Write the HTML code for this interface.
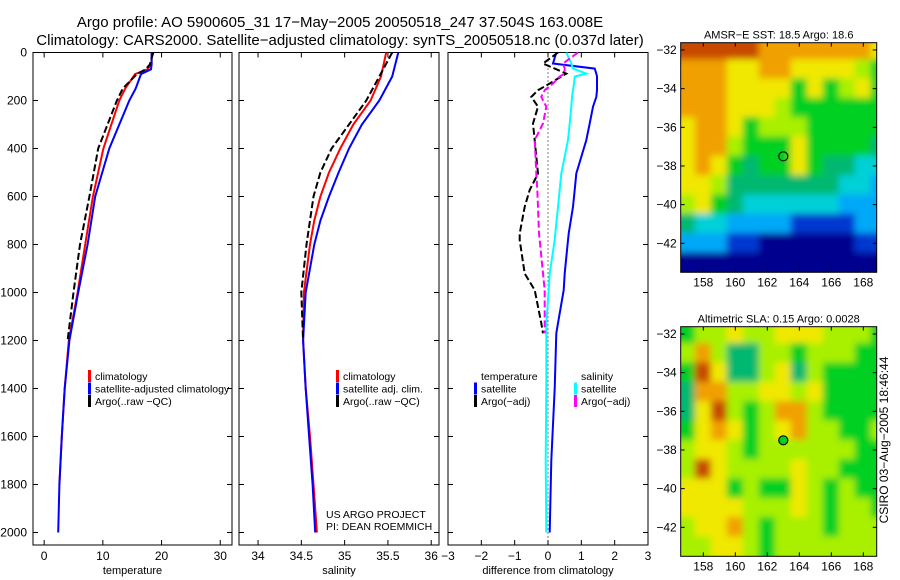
<!DOCTYPE html>
<html><head><meta charset="utf-8"><style>
html,body{margin:0;padding:0;background:#fff;width:900px;height:580px;overflow:hidden}
svg{display:block;font-family:"Liberation Sans",sans-serif}
</style></head><body>
<svg id="fig" width="900" height="580" viewBox="0 0 900 580">
<text x="340" y="27" text-anchor="middle" font-size="15">Argo profile: AO 5900605_31 17−May−2005 20050518_247 37.504S 163.008E</text>
<text x="340" y="45" text-anchor="middle" font-size="15">Climatology: CARS2000. Satellite−adjusted climatology: synTS_20050518.nc (0.037d later)</text>
<text x="888" y="440" text-anchor="middle" font-size="12" transform="rotate(-90 888 440)">CSIRO 03−Aug−2005 18:46:44</text>
</svg>
<script>
// ---------- Profile data ----------
const tDepth = [0,50,70,90,150,200,400,600,800,1000,1200,1400,1600,1800,2000];
const tClim  = [18.3,18.3,17.6,15.5,13.8,12.8,10.1,8.3,7.0,5.7,4.2,3.5,3.0,2.6,null];
const tSat   = [18.3,18.3,18.2,16.5,15.6,14.5,11.1,8.7,7.4,5.8,4.3,3.5,3.0,2.6,2.4];
const tArgo  = [18.6,18.0,17.3,15.8,13.4,12.4,9.2,7.7,6.1,5.0,4.0,null,null,null,null];

const sDepth = [0,100,200,300,400,500,600,700,800,1000,1200,1400,1600,1800,2000];
const sClim  = [35.48,35.42,35.3,35.1,34.95,34.82,34.72,34.65,34.6,34.53,34.52,34.55,34.6,34.64,34.68];
const sSat   = [35.62,35.55,35.4,35.2,35.05,34.93,34.82,34.72,34.65,34.55,34.52,34.55,34.59,34.63,34.66];
const sArgo  = [35.55,35.4,35.25,35.05,34.85,34.72,34.64,34.6,34.56,34.5,34.52,null,null,null,null];

const dDepth   = [0,46,67,88,100,129,157,185,226,296,365,504,573,643,754,782,921,990,1128,1170,1400,1700,2000];
const dTempSat = [0.25,0.15,1.4,1.45,1.47,1.47,1.47,1.45,1.35,1.25,1.15,0.85,0.8,0.75,0.62,0.6,0.5,0.47,0.3,0.25,0.2,0.1,0.05];
const dSalSat  = [0.55,0.7,0.75,1.15,0.8,0.78,0.75,0.72,0.7,0.65,0.6,0.4,0.35,0.3,0.22,0.2,0.05,0.02,-0.05,-0.05,-0.05,-0.07,-0.05];
const dTempArgo= [0.3,-0.15,0.2,0.55,0.4,0.05,-0.3,-0.5,-0.3,-0.45,-0.4,-0.3,-0.55,-0.7,-0.85,-0.85,-0.7,-0.4,-0.2,-0.15,null,null,null];
const dSalArgo = [0.9,0.45,0.5,0.5,0.35,0.15,-0.1,-0.2,-0.05,-0.15,-0.4,-0.35,-0.32,-0.3,-0.27,-0.25,-0.15,-0.1,-0.1,-0.1,null,null,null];

const depthTicks = [0,200,400,600,800,1000,1200,1400,1600,1800,2000];
const tTicks = [0,10,20,30];
const sTicks = [34,34.5,35,35.5,36];
const sTickLabels = ["34","34.5","35","35.5","36"];
const dTicks = [-3,-2,-1,0,1,2,3];

// ---------- Map data (colour index 0..9, rows lat -32..-43, cols lon 157..169) ----------
const mapLons = [157,158,159,160,161,162,163,164,165,166,167,168,169];
const mapLats = [-32,-33,-34,-35,-36,-37,-38,-39,-40,-41,-42,-43];
const sstGrid = [
[9,9,9,9,9,8,8,8,8,8,8,8,7],
[8,8,8,7,7,8,8,7,7,7,7,6,5],
[8,8,8,7,7,7,7,5,7,5,6,7,5],
[8,8,8,7,7,7,6,5,5,5,5,5,5],
[7,8,8,7,5,6,6,6,5,5,5,5,5],
[7,8,8,6,5,5,5,7,5,5,5,5,4],
[7,8,7,5,4,5,5,7,5,4,4,3,3],
[7,7,6,4,4,4,4,4,4,4,3,3,2],
[6,7,5,4,3,3,3,3,3,3,2,2,2],
[4,3,3,2,2,2,2,1,1,1,1,2,2],
[2,2,2,1,1,0,0,0,0,0,0,1,1],
[0,0,0,0,0,0,0,0,0,0,0,0,0]];
const slaGrid = [
[5,6,6,7,6,6,7,7,7,6,6,6,5],
[6,8,6,4,4,6,6,5,6,6,6,5,5],
[5,9,7,4,4,6,7,4,6,5,5,5,5],
[4,8,8,6,6,7,7,6,7,5,5,5,5],
[4,7,9,6,5,6,8,8,6,5,5,5,5],
[5,7,8,7,5,6,7,8,6,6,5,5,6],
[6,7,7,6,5,6,6,6,6,6,6,5,5],
[6,9,7,6,6,6,6,7,6,6,5,5,5],
[7,7,7,5,6,5,5,7,6,5,6,5,5],
[7,7,7,7,6,6,6,7,6,5,6,6,5],
[6,7,7,8,6,5,6,6,6,5,6,6,6],
[6,6,7,7,6,5,6,6,6,6,6,6,6]];
const lonTicks = [158,160,162,164,166,168];
const latTicks = [-32,-34,-36,-38,-40,-42];
const floatLon = 163.0, floatLat = -37.5;

const palette = ["#00008f","#0038d0","#00a8f8","#00d0d8","#00b870","#00d020","#a8f000","#f0e800","#f0a000","#c84800"];

const svg = document.getElementById('fig');
const NS = "http://www.w3.org/2000/svg";
function mk(tag, attrs, parent){const e=document.createElementNS(NS,tag);for(const k in attrs)e.setAttribute(k,attrs[k]);(parent||svg).appendChild(e);return e;}

const yTop=52.5, yPerM=0.24;
function yD(d){return yTop + d*yPerM;}
const plotBottom=545;

function profilePanel(name,x0,x1,vmin,vmax,ticks,labels,xlabel){
  const g=mk('g',{});
  
  
  const xs=v=>x0+(v-vmin)/(vmax-vmin)*(x1-x0);
  const fr=mk('rect',{x:x0,y:yTop,width:x1-x0,height:plotBottom-yTop,fill:'none',stroke:'#000','stroke-width':1},g);
  
  
  ticks.forEach((t,i)=>{
    const x=xs(t);
    mk('line',{x1:x,x2:x,y1:plotBottom,y2:plotBottom-5,stroke:'#000'},g);
    mk('line',{x1:x,x2:x,y1:yTop,y2:yTop+5,stroke:'#000'},g);
    const tx=mk('text',{x:x,y:plotBottom+15,'text-anchor':'middle','font-size':12},g);
    tx.textContent=labels[i];
    
    
  });
  depthTicks.forEach(d=>{
    const y=yD(d);
    mk('line',{x1:x0,x2:x0+5,y1:y,y2:y,stroke:'#000'},g);
    mk('line',{x1:x1,x2:x1-5,y1:y,y2:y,stroke:'#000'},g);
  });
  const xl=mk('text',{x:(x0+x1)/2,y:plotBottom+29,'text-anchor':'middle','font-size':11},g);
  xl.textContent=xlabel;
  
  
  return {g,xs};
}
function series(p,depths,vals,color,dash,name){
  const pts=[];
  depths.forEach((d,i)=>{if(vals[i]!==null)pts.push(p.xs(vals[i]).toFixed(1)+','+yD(d).toFixed(1));});
  const pl=mk('polyline',{points:pts.join(' '),fill:'none',stroke:color,'stroke-width':2,'stroke-dasharray':dash||'none'},p.g);
  
  
}
function legend(p,x,y,items){
  items.forEach((it,i)=>{
    const yy=y+i*12.5;
    if(it[1]){mk('rect',{x:x,y:yy-10,width:3,height:12,fill:it[1]},p.g);}
    const t=mk('text',{x:x+7,y:yy,'font-size':10.5},p.g);
    t.textContent=it[0];
    
    
  });
}

depthTicks.forEach(d=>{
  const t=mk('text',{x:27,y:yD(d)+4,'text-anchor':'end','font-size':12});
  t.textContent=String(d);
  
  
});

const pT=profilePanel('temperature',33,232,-1.9,32,tTicks,tTicks.map(String),'temperature');
series(pT,tDepth,tClim,'#ff0000',null,'temperature-climatology-line');
series(pT,tDepth,tSat,'#0000ff',null,'temperature-satellite-line');
series(pT,tDepth,tArgo,'#000000','7,3','temperature-argo-line');
legend(pT,88,380,[['climatology','#ff0000'],['satellite-adjusted climatology','#0000ff'],['Argo(..raw −QC)','#000']]);

const pS=profilePanel('salinity',239,439,33.78,36.09,sTicks,sTickLabels,'salinity');
series(pS,sDepth,sClim,'#ff0000',null,'salinity-climatology-line');
series(pS,sDepth,sSat,'#0000ff',null,'salinity-satellite-line');
series(pS,sDepth,sArgo,'#000000','7,3','salinity-argo-line');
legend(pS,336,380,[['climatology','#ff0000'],['satellite adj. clim.','#0000ff'],['Argo(..raw −QC)','#000']]);
const us=mk('text',{x:326,y:518,'font-size':10.5},pS.g);us.textContent='US ARGO PROJECT';


const pi=mk('text',{x:326,y:530,'font-size':10.5},pS.g);pi.textContent='PI: DEAN ROEMMICH';



const pD=profilePanel('difference',448,648,-3,3,dTicks,dTicks.map(v=>v<0?'−'+(-v):String(v)),'difference from climatology');
const zl=mk('line',{x1:pD.xs(0),x2:pD.xs(0),y1:yTop,y2:plotBottom,stroke:'#000','stroke-dasharray':'1,3'},pD.g);


series(pD,dDepth,dTempSat,'#0000ff',null,'temp-satellite-diff-line');
series(pD,dDepth,dSalSat,'#00ffff',null,'sal-satellite-diff-line');
series(pD,dDepth,dTempArgo,'#000000','7,3','temp-argo-diff-line');
series(pD,dDepth,dSalArgo,'#ff00ff','7,3','sal-argo-diff-line');
legend(pD,474,380,[['temperature',null],['satellite','#0000ff'],['Argo(−adj)','#000']]);
legend(pD,574,380,[['salinity',null],['satellite','#00ffff'],['Argo(−adj)','#ff00ff']]);

// ---------- Maps ----------
const defs=mk('defs',{});
const f=mk('filter',{id:'sm',filterUnits:'userSpaceOnUse',x:'600',y:'0',width:'300',height:'580'},defs);
mk('feGaussianBlur',{'in':'SourceGraphic',stdDeviation:'3.5'},f);
function mapPanel(name,top,grid,title,markerFill){
  const x0=680.7,x1=876.7,bottom=top+229.6;
  const lonX=l=>703.3+(l-158)*16;
  const latY=la=>top+7.3+(-32-la)*19.33;
  const g=mk('g',{});
  
  
  const cp=mk('clipPath',{id:'cp'+name},defs);
  mk('rect',{x:x0,y:top,width:x1-x0,height:bottom-top},cp);
  const cg=mk('g',{'clip-path':'url(#cp'+name+')'},g);
  const inner=mk('g',{filter:'url(#sm)'},cg);
  const nr=grid.length, nc=grid[0].length;
  grid.forEach((row,r)=>row.forEach((v,c)=>{
    const cx=lonX(mapLons[c]),cy=latY(mapLats[r]);
    let xa=cx-8.5, xb=cx+9, ya=cy-10.2, yb=cy+10.6;
    if(c===0)xa-=25; if(c===nc-1)xb+=25; if(r===0)ya-=25; if(r===nr-1)yb+=25;
    const cell=mk('rect',{x:xa,y:ya,width:xb-xa,height:yb-ya,fill:palette[v]},inner);
    
    
  }));
  mk('rect',{x:x0,y:top,width:x1-x0,height:bottom-top,fill:'none',stroke:'#000'},g);
  lonTicks.forEach(l=>{
    const x=lonX(l);
    mk('line',{x1:x,x2:x,y1:bottom,y2:bottom-4,stroke:'#000'},g);
    mk('line',{x1:x,x2:x,y1:top,y2:top+4,stroke:'#000'},g);
    const t=mk('text',{x:x,y:bottom+14,'text-anchor':'middle','font-size':12},g);t.textContent=String(l);
    
    
  });
  latTicks.forEach(la=>{
    const y=latY(la);
    mk('line',{x1:x0,x2:x0+4,y1:y,y2:y,stroke:'#000'},g);
    mk('line',{x1:x1,x2:x1-4,y1:y,y2:y,stroke:'#000'},g);
    const t=mk('text',{x:x0-4,y:y+4,'text-anchor':'end','font-size':12},g);t.textContent='−'+(-la);
    
    
  });
  const tt=mk('text',{x:(x0+x1)/2,y:top-4,'text-anchor':'middle','font-size':11},g);tt.textContent=title;
  
  
  const m=mk('circle',{cx:lonX(floatLon),cy:latY(floatLat),r:4.5,fill:markerFill,stroke:'#000','stroke-width':1.2},g);
  
  
}
mapPanel('sst',42.7,sstGrid,'AMSR−E SST: 18.5 Argo: 18.6','none');
mapPanel('sla',326.7,slaGrid,'Altimetric SLA: 0.15 Argo: 0.0028','#00d020');
</script>
</body></html>
